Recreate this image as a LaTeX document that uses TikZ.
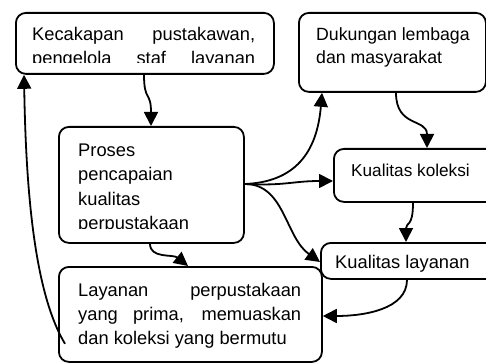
\documentclass[tikz,border=0pt]{standalone}
\usepackage{fontspec}
\setmainfont{Liberation Sans}
\usetikzlibrary{arrows.meta,calc}
\begin{document}
\begin{tikzpicture}[x=1pt,y=-1pt,
  box/.style={draw,line width=1.8pt,rounded corners=10pt,inner sep=0pt,anchor=north west},
  txt/.style={inner sep=0pt,anchor=base west,font=\fontsize{18.3}{24}\selectfont},
  conn/.style={line width=1.8pt,-{Triangle[length=14pt,width=14pt]}}]
\clip (0,0) rectangle (486,363);
\useasboundingbox (0,0) rectangle (486,363);
% boxes
\node[box,minimum width=258pt,minimum height=61pt] (b1) at (15,12) {};
\node[box,minimum width=185pt,minimum height=116pt] (b2) at (58,126) {};
\node[box,minimum width=187pt,minimum height=79pt] (b3) at (298,12) {};
\node[box,minimum width=170pt,minimum height=53pt] (b4) at (333,148) {};
\node[box,minimum width=180pt,minimum height=36pt] (b5) at (320,242) {};
\node[box,minimum width=263pt,minimum height=95pt] (b6) at (58,266) {};
% texts
\begin{scope}
\clip (17,14) rectangle (271,63);
\node[txt] (t1a) at (32,41) {\makebox[223pt][s]{Kecakapan pustakawan,}};
\node[txt] (t1b) at (32,65) {\makebox[223pt][s]{pengelola staf layanan}};
\end{scope}
\begin{scope}
\clip (60,128) rectangle (241,228);
\node[txt] (t2a) at (78,157) {Proses};
\node[txt] (t2b) at (78,181) {pencapaian};
\node[txt] (t2c) at (78,205) {kualitas};
\node[txt] (t2d) at (78,229) {perpustakaan};
\end{scope}
\node[txt,font=\fontsize{17.7}{23}\selectfont] (t3a) at (316,41) {Dukungan lembaga};
\node[txt,font=\fontsize{17.7}{23}\selectfont] (t3b) at (316,64) {dan masyarakat};
\node[txt,font=\fontsize{17.2}{23}\selectfont] (t4) at (351,176) {Kualitas koleksi};
\node[txt] (t5) at (335,268) {Kualitas layanan};
\node[txt] (t6a) at (78,296) {\makebox[223pt][s]{Layanan perpustakaan}};
\node[txt] (t6b) at (78,320) {\makebox[223pt][s]{yang prima, memuaskan}};
\node[txt] (t6c) at (78,344) {dan koleksi yang bermutu};
% connectors
\draw[conn] ($(b1.south west)+(129,0)$) .. controls +(0,27) and +(0,-35) .. ($(b2.north west)+(93,0)$);
\draw[conn] ($(b2.north east)+(0,58)$) .. controls +(50,-2) and +(-5,60) .. ($(b3.south west)+(24,0)$);
\draw[conn] ($(b2.north east)+(0,58)$) .. controls +(40,2) and +(-40,0) .. ($(b4.north west)+(0,33)$);
\draw[conn] ($(b2.north east)+(0,58)$) .. controls +(40,0) and +(-35,-25) .. ($(b5.north west)+(0,20)$);
\draw[conn] ($(b3.south west)+(98,0)$) .. controls +(0,35) and +(0,-30) .. ($(b4.north west)+(94,0)$);
\draw[conn] ($(b4.south west)+(80,0)$) .. controls +(0,25) and +(0,-20) .. ($(b5.north west)+(86,0)$);
\draw[conn] ($(b5.south west)+(87,0)$) .. controls +(0,30) and +(40,0) .. ($(b6.north east)+(0,50)$);
\draw[conn] ($(b2.south west)+(92,0)$) .. controls +(0,15) and +(-15,-12) .. ($(b6.north west)+(130,0)$);
\draw[conn] ($(b6.south west)+(7,-19)$) .. controls +(-30,-50) and +(2,120) .. ($(b1.south west)+(9,0)$);
\end{tikzpicture}
\end{document}
